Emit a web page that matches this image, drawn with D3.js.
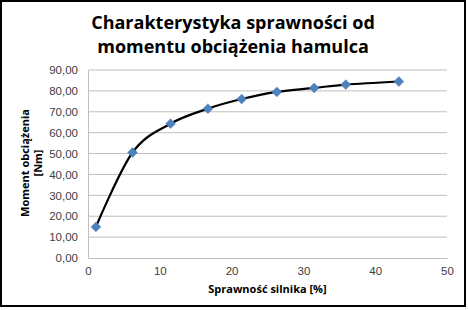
<!DOCTYPE html>
<html>
<head>
<meta charset="utf-8">
<script src="https://cdn.jsdelivr.net/npm/d3@7"></script>
<style>
  body { margin: 0; background: #fff; }
  svg { display: block; font-family: "Open Sans", "DejaVu Sans", sans-serif; }
</style>
</head>
<body>
<div id="chart"></div>
<script>
// efficiency [%] vs load moment [Nm]
const sprawnosc = [1.1, 6.2, 11.5, 16.7, 21.4, 26.3, 31.5, 35.9, 43.3];
const moment = [14.9, 50.5, 64.3, 71.5, 76.1, 79.5, 81.4, 83.0, 84.5];
const xTicks = [0, 10, 20, 30, 40, 50];
const yTicks = [0, 10, 20, 30, 40, 50, 60, 70, 80, 90];
const titleLines = ["Charakterystyka sprawności od", "momentu obciążenia hamulca"];
const xTitle = "Sprawność silnika [%]";
const yTitleLines = ["Moment obciążenia", "[Nm]"];

let width = 468, height = 310;
let margin = {top: 70, right: 21, bottom: 52, left: 88};

let svg = d3.select("#chart").append("svg")
    .attr("width", width)
    .attr("height", height);

// outer frame
svg.append("rect")
    .attr("x", 1).attr("y", 1)
    .attr("width", 464).attr("height", 305)
    .attr("fill", "#fff")
    .attr("stroke", "#000")
    .attr("stroke-width", 2);

let x = d3.scaleLinear([0, 50], [margin.left, width - margin.right]);
let y = d3.scaleLinear([0, 90], [height - margin.bottom, margin.top]);

// gridlines
svg.append("g")
    .selectAll("line")
    .data(yTicks.slice(1))
    .join("line")
        .attr("x1", x(0)).attr("x2", x(50))
        .attr("y1", d => y(d)).attr("y2", d => y(d))
        .attr("stroke", "#bfbfbf")
        .attr("stroke-width", 1);

// y axis
svg.append("g")
    .attr("transform", `translate(${x(0)},0)`)
    .call(d3.axisLeft(y).tickValues(yTicks).tickSize(0).tickPadding(10)
        .tickFormat(d => d3.format(".2f")(d).replace(".", ",")))
    .call(g => g.select(".domain").attr("stroke", "#bfbfbf"))
    .call(g => g.selectAll("text").attr("fill", "#404040").style("font-size", "11.5px"));

// x axis
svg.append("g")
    .attr("transform", `translate(0,${y(0)})`)
    .call(d3.axisBottom(x).tickValues(xTicks).tickSize(0).tickPadding(9))
    .call(g => g.select(".domain").attr("stroke", "#bfbfbf"))
    .call(g => g.selectAll("text").attr("fill", "#404040").style("font-size", "11.5px"));

// title
svg.append("g")
    .selectAll("text")
    .data(titleLines)
    .join("text")
        .attr("x", 233)
        .attr("y", (d, i) => 29 + i * 24)
        .attr("text-anchor", "middle")
        .style("font-size", "18px")
        .style("font-weight", "bold")
        .attr("fill", "#000")
        .text(d => d);

// axis titles
svg.append("text")
    .attr("x", x(25))
    .attr("y", 293)
    .attr("text-anchor", "middle")
    .style("font-size", "11px")
    .style("font-weight", "bold")
    .text(xTitle);

svg.append("g")
    .attr("transform", "translate(0,163) rotate(-90)")
    .selectAll("text")
    .data(yTitleLines)
    .join("text")
        .attr("x", 0)
        .attr("y", (d, i) => 29 + i * 13)
        .attr("text-anchor", "middle")
        .style("font-size", "11px")
        .style("font-weight", "bold")
        .text(d => d);

// smoothed line (Excel-like smoothing)
let pts = sprawnosc.map((d, i) => [d, moment[i]]);
let line = d3.line()
    .x(d => x(d[0]))
    .y(d => y(d[1]))
    .curve(d3.curveCardinal.tension(0));

svg.append("path")
    .datum(pts)
    .attr("fill", "none")
    .attr("stroke", "#000")
    .attr("stroke-width", 2.2)
    .attr("d", line);

// diamond markers
svg.append("g")
    .selectAll("path")
    .data(pts)
    .join("path")
        .attr("transform", d => `translate(${x(d[0])},${y(d[1])}) rotate(45)`)
        .attr("d", d3.symbol(d3.symbolSquare, 48))
        .attr("fill", "#4f81bd")
        .attr("stroke", "#4a7ebb")
        .attr("stroke-width", 0.5);
</script>
</body>
</html>
